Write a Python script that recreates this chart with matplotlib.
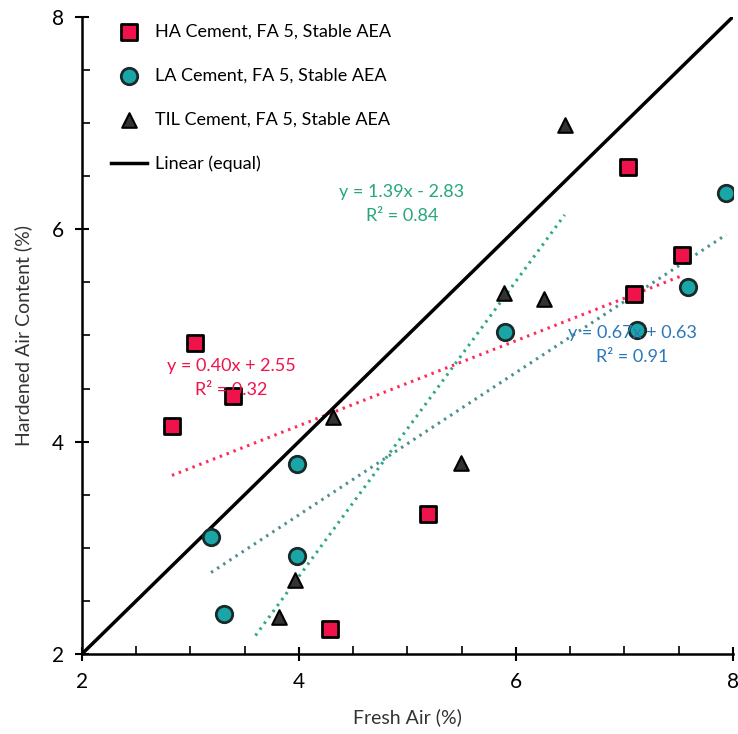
import numpy as np
import matplotlib.pyplot as plt

plt.rcParams['font.family'] = ['Lato', 'DejaVu Sans']

# fresh vs hardened air, three cement types
ha_fresh = [2.83, 3.04, 3.39, 5.19, 4.29, 7.03, 7.09, 7.53]
ha_hard = [4.15, 4.93, 4.43, 3.32, 2.24, 6.59, 5.39, 5.76]

la_fresh = [3.19, 3.31, 3.98, 3.98, 5.90, 7.12, 7.59, 7.94]
la_hard = [3.10, 2.38, 3.79, 2.92, 5.03, 5.05, 5.46, 6.34]

til_fresh = [6.45, 5.89, 6.26, 4.31, 5.49, 3.96, 3.82]
til_hard = [6.98, 5.40, 5.34, 4.23, 3.80, 2.70, 2.35]

# trendline coefficients (slope, intercept, R^2) and drawn x-range
ha_fit = (0.40, 2.55, 0.32)
la_fit = (0.67, 0.63, 0.91)
til_fit = (1.39, -2.83, 0.84)
ha_span = (2.83, 7.53)
la_span = (3.19, 7.94)
til_span = (3.60, 6.45)

red = '#f0124a'
teal = '#1aa6a6'
green = '#27a77a'
blue = '#2b78b8'

fig = plt.figure(figsize=(7.38, 7.34), dpi=100)
ax = fig.add_axes([0.111, 0.109, 0.882, 0.868])

ax.plot([2, 8], [2, 8], color='black', lw=2.5, label='Linear (equal)', zorder=2)

def trend(fit, span, color):
    xs = np.array(span)
    ax.plot(xs, fit[0] * xs + fit[1], color=color, lw=2.2, ls=(0, (0.8, 1.6)), zorder=1)

trend(ha_fit, ha_span, '#ff2a5a')
trend(la_fit, la_span, '#4e8f92')
trend(til_fit, til_span, '#2fa88a')

ax.scatter(ha_fresh, ha_hard, marker='s', s=130, c=red, edgecolors='black',
           linewidths=2, label='HA Cement, FA 5, Stable AEA', zorder=3)
ax.scatter(la_fresh, la_hard, marker='o', s=140, c=teal, edgecolors='#1a2a2a',
           linewidths=2, label='LA Cement, FA 5, Stable AEA', zorder=3)
ax.scatter(til_fresh, til_hard, marker='^', s=110, c='#333333', edgecolors='black',
           linewidths=1.5, label='TIL Cement, FA 5, Stable AEA', zorder=3)

def eq_text(x, y, fit, color):
    sign = '+' if fit[1] >= 0 else '-'
    ax.text(x, y, f'y = {fit[0]:.2f}x {sign} {abs(fit[1]):.2f}\nR\u00b2 = {fit[2]:.2f}',
            color=color, fontsize=13, ha='center', va='center', linespacing=1.6, zorder=4)

eq_text(4.95, 6.24, til_fit, green)
eq_text(3.38, 4.6, ha_fit, red)
eq_text(7.07, 4.91, la_fit, blue)

ax.set_xlim(2, 8)
ax.set_ylim(2, 8)
ax.set_xticks([2, 4, 6, 8])
ax.set_yticks([2, 4, 6, 8])
ax.set_xticks(np.arange(2, 8.01, 0.5), minor=True)
ax.set_yticks(np.arange(2, 8.01, 0.5), minor=True)
ax.tick_params(which='major', direction='inout', length=10, width=1.5, labelsize=15, pad=8)
ax.tick_params(which='minor', direction='in', length=6, width=1.2)
for side in ('top', 'right'):
    ax.spines[side].set_visible(False)
for side in ('left', 'bottom'):
    ax.spines[side].set_linewidth(1.8)

ax.set_xlabel('Fresh Air (%)', fontsize=14, color='#333333', labelpad=12)
ax.set_ylabel('Hardened Air Content (%)', fontsize=14, color='#333333', labelpad=14)

handles, labels = ax.get_legend_handles_labels()
order = [1, 2, 3, 0]
ax.legend([handles[i] for i in order], [labels[i] for i in order], loc='upper left',
          bbox_to_anchor=(0.02, 1.015), frameon=False, fontsize=13, labelspacing=1.55,
          handlelength=2.0, handletextpad=0.4, scatterpoints=1)

fig.savefig('out.png', dpi=100)
